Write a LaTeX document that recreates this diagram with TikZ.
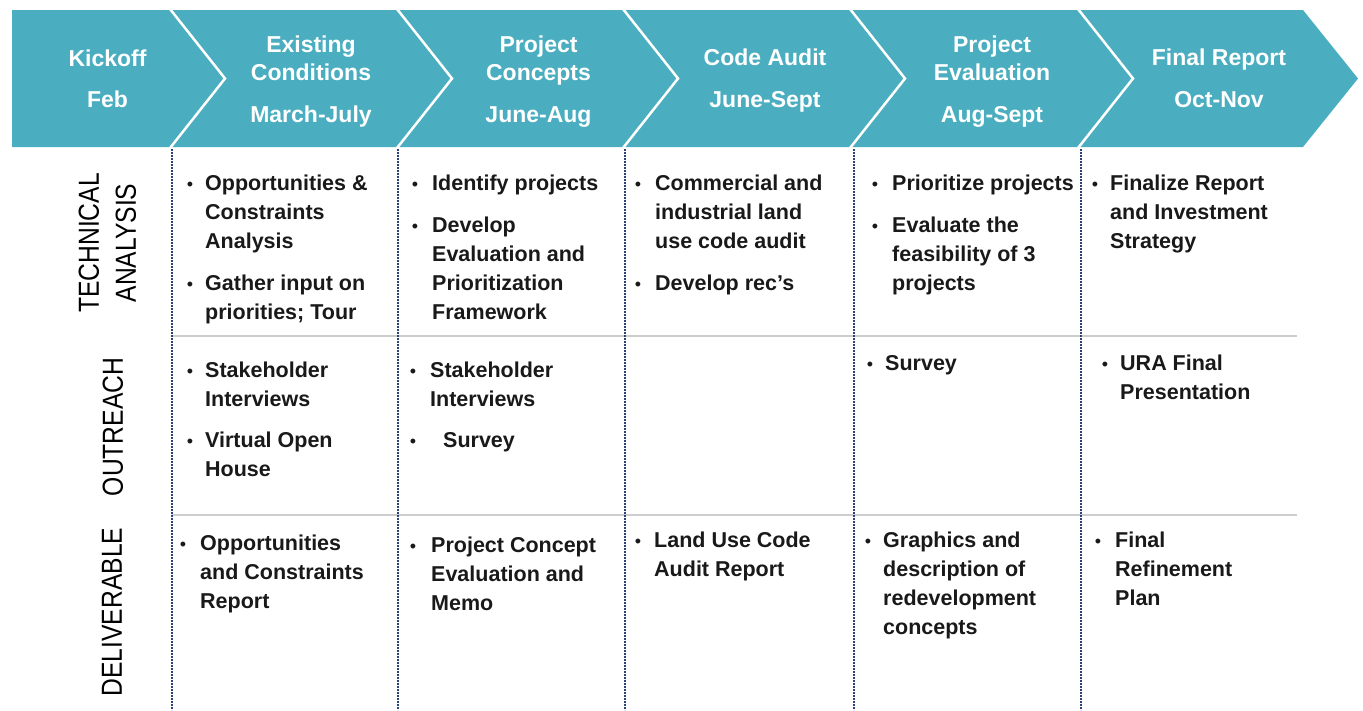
\documentclass[tikz,border=0pt]{standalone}
\usepackage{fontspec}
\setmainfont{Liberation Sans}
\newfontfamily\narrowfont[FakeStretch=0.85]{Liberation Sans}
\definecolor{teal1}{RGB}{74,174,192}
\definecolor{navy1}{RGB}{45,66,122}
\definecolor{grid1}{RGB}{205,205,205}
\definecolor{ink}{RGB}{25,25,25}
\newcommand\mlines[1]{\begin{tabular}[t]{@{}l@{}}#1\end{tabular}}
\newcommand\mcenter[1]{\begin{tabular}[t]{@{}c@{}}#1\end{tabular}}
\newcommand\bitem[5]{%
  \node[bul] (#1b) at (#2,#4) {•};
  \node[itemtext] (#1) at (#3,#4) {\mlines{#5}};}
\begin{document}
\begin{tikzpicture}[x=1pt,y=-1pt,
  hdr/.style={text=white, font=\fontsize{23}{28}\selectfont\bfseries, inner sep=0, anchor=base},
  itemtext/.style={text=ink, font=\fontsize{21.5}{29}\selectfont\bfseries, inner sep=0, anchor=base west},
  bul/.style={text=ink, font=\fontsize{18}{29}\selectfont, inner sep=0, anchor=base},
  rowlab/.style={text=black, font=\narrowfont\fontsize{29}{37}\selectfont, align=center, rotate=90, inner sep=0},
  sepline/.style={white, line width=2.5pt},
  vdot/.style={navy1, line width=2pt, dash pattern=on 1.8pt off 1.2pt},
  hrule/.style={grid1, line width=2pt}]
\useasboundingbox (0,0) rectangle (1363,710);
% chevron bar
\fill[teal1] (12,10) -- (1303,10) -- (1358,78.5) -- (1303,147) -- (12,147) -- cycle;
\foreach \x in {170,397,623,850,1078}
  \draw[sepline] (\x,9) -- (\x+55,78.5) -- (\x,148);
% headers
\node[hdr] (h1) at (107.5,66) {Kickoff};
\node[hdr] (d1) at (107.5,107) {Feb};
\node[hdr] (h2) at (311,52) {\mcenter{Existing\\Conditions}};
\node[hdr] (d2) at (311,122) {March-July};
\node[hdr] (h3) at (538.5,52) {\mcenter{Project\\Concepts}};
\node[hdr] (d3) at (538.5,122) {June-Aug};
\node[hdr] (h4) at (765,65) {Code Audit};
\node[hdr] (d4) at (765,107) {June-Sept};
\node[hdr] (h5) at (992,52) {\mcenter{Project\\Evaluation}};
\node[hdr] (d5) at (992,122) {Aug-Sept};
\node[hdr] (h6) at (1219,65) {Final Report};
\node[hdr] (d6) at (1219,107) {Oct-Nov};
% grid
\draw[hrule] (172,335.5) -- (1297,335.5);
\draw[hrule] (172,515) -- (1297,515);
\foreach \x in {172,398,625,854,1081}
  \draw[vdot] (\x,149) -- (\x,710);
% row labels
\node[rowlab] (lt) at (107.5,243) {TECHNICAL\\ANALYSIS};
\node[rowlab] (lo) at (113,427) {OUTREACH};
\node[rowlab] (ld) at (112,612) {DELIVERABLE};
% technical analysis
\bitem{t1a}{190}{205}{190}{Opportunities \&\\Constraints\\Analysis}
\bitem{t1b}{190}{205}{290}{Gather input on\\priorities; Tour}
\bitem{t2a}{415}{432}{190}{Identify projects}
\bitem{t2b}{415}{432}{232}{Develop\\Evaluation and\\Prioritization\\Framework}
\bitem{t3a}{638}{655}{190}{Commercial and\\industrial land\\use code audit}
\bitem{t3b}{638}{655}{290}{Develop rec’s}
\bitem{t4a}{875}{892}{190}{Prioritize projects}
\bitem{t4b}{875}{892}{232}{Evaluate the\\feasibility of 3\\projects}
\bitem{t5a}{1095}{1110}{190}{Finalize Report\\and Investment\\Strategy}
% outreach
\bitem{o1a}{190}{205}{377}{Stakeholder\\Interviews}
\bitem{o1b}{190}{205}{447}{Virtual Open\\House}
\bitem{o2a}{413}{430}{377}{Stakeholder\\Interviews}
\bitem{o2b}{413}{443}{447}{Survey}
\bitem{o4a}{870}{885}{370}{Survey}
\bitem{o5a}{1105}{1120}{370}{URA Final\\Presentation}
% deliverables
\bitem{v1a}{183}{200}{550}{Opportunities\\and Constraints\\Report}
\bitem{v2a}{413}{431}{552}{Project Concept\\Evaluation and\\Memo}
\bitem{v3a}{638}{654}{547}{Land Use Code\\Audit Report}
\bitem{v4a}{868}{883}{547}{Graphics and\\description of\\redevelopment\\concepts}
\bitem{v5a}{1098}{1115}{547}{Final\\Refinement\\Plan}
\end{tikzpicture}
\end{document}
